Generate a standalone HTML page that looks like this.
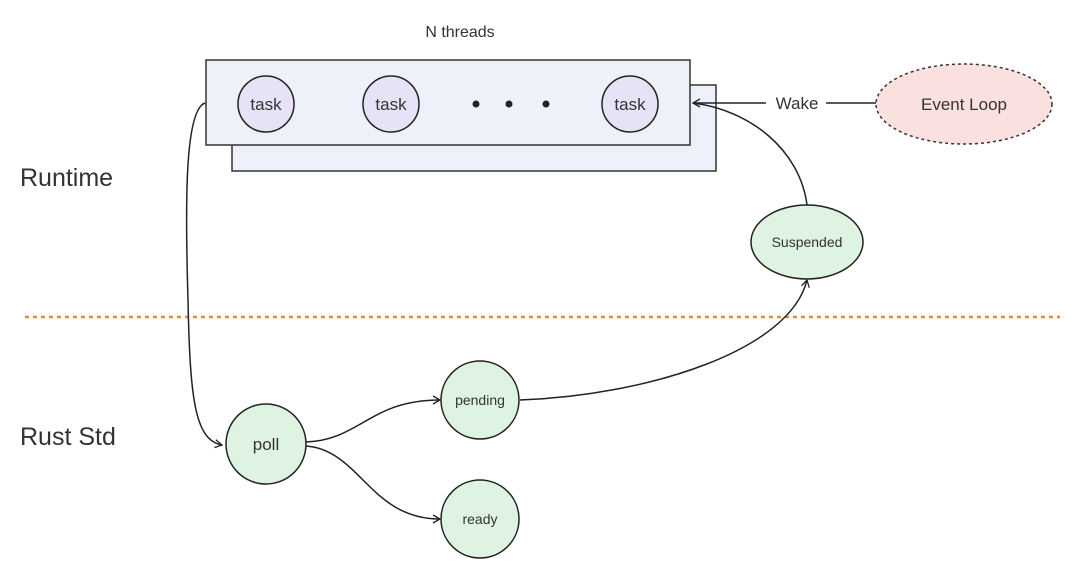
<!DOCTYPE html>
<html><head><style>
html,body{margin:0;padding:0;background:#fff;}
svg text{font-family:"Liberation Sans",sans-serif;fill:#333;}
</style></head><body>
<svg width="1080" height="574" viewBox="0 0 1080 574" xmlns="http://www.w3.org/2000/svg">
<defs><marker id="a" markerWidth="10" markerHeight="10" refX="8" refY="5" orient="auto" markerUnits="userSpaceOnUse"><path d="M1,1 L8,5 L1,9" fill="none" stroke="#222" stroke-width="1.3"/></marker></defs>
<rect width="1080" height="574" fill="#fff"/>
<text x="460" y="37" font-size="16" text-anchor="middle">N threads</text>
<rect x="232" y="85" width="484" height="86" fill="#eef0fa" stroke="#333" stroke-width="1.5"/>
<rect x="206" y="60" width="484" height="85" fill="#eef0fa" stroke="#333" stroke-width="1.5"/>
<g fill="#e8e2f6" stroke="#222" stroke-width="1.5">
<circle cx="266" cy="104" r="28"/><circle cx="391" cy="104" r="28"/><circle cx="630" cy="104" r="28"/></g>
<g font-size="17" text-anchor="middle"><text x="266" y="110">task</text><text x="391" y="110">task</text><text x="630" y="110">task</text></g>
<circle cx="476" cy="104" r="3.5" fill="#222"/><circle cx="509" cy="104" r="3.5" fill="#222"/><circle cx="546" cy="104" r="3.5" fill="#222"/>
<ellipse cx="964" cy="104" rx="88" ry="40" fill="#fbe0e0" stroke="#333" stroke-width="1.5" stroke-dasharray="3,3"/>
<text x="964" y="110" font-size="17" text-anchor="middle">Event Loop</text>
<line x1="876" y1="103" x2="826" y2="103" stroke="#222" stroke-width="1.5"/>
<text x="797" y="109" font-size="17" text-anchor="middle">Wake</text>
<line x1="766" y1="103" x2="693" y2="103" stroke="#222" stroke-width="1.5" marker-end="url(#a)"/>
<path d="M807,205 C800,150 750,110 693,103" fill="none" stroke="#222" stroke-width="1.5"/>
<ellipse cx="807" cy="242" rx="56" ry="37" fill="#def3e2" stroke="#222" stroke-width="1.5"/>
<text x="807" y="247" font-size="14" text-anchor="middle">Suspended</text>
<text x="20" y="186" font-size="25">Runtime</text>
<text x="20" y="445" font-size="25">Rust Std</text>
<line x1="25" y1="317" x2="1060" y2="317" stroke="#d9922e" stroke-width="2.5" stroke-dasharray="4,4"/>
<path d="M205,103 C185,110 185,200 188,300 C190,400 195,440 222,445" fill="none" stroke="#222" stroke-width="1.5" marker-end="url(#a)"/>
<circle cx="266" cy="444" r="40" fill="#def3e2" stroke="#222" stroke-width="1.5"/>
<text x="266" y="450" font-size="17" text-anchor="middle">poll</text>
<circle cx="480" cy="400" r="39" fill="#def3e2" stroke="#222" stroke-width="1.5"/>
<text x="480" y="405" font-size="14" text-anchor="middle">pending</text>
<circle cx="480" cy="519" r="39" fill="#def3e2" stroke="#222" stroke-width="1.5"/>
<text x="480" y="524" font-size="14" text-anchor="middle">ready</text>
<path d="M306,442 C360,440 370,400 440,400" fill="none" stroke="#222" stroke-width="1.5" marker-end="url(#a)"/>
<path d="M306,446 C360,450 370,519 440,519" fill="none" stroke="#222" stroke-width="1.5" marker-end="url(#a)"/>
<path d="M520,400 C650,395 790,350 807,280" fill="none" stroke="#222" stroke-width="1.5" marker-end="url(#a)"/>
</svg>
</body></html>
